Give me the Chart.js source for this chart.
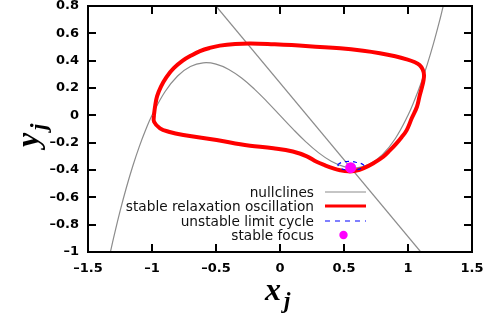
<!DOCTYPE html>
<html>
<head>
<meta charset="utf-8">
<script src="https://cdn.jsdelivr.net/npm/chart.js@4"></script>
<style>
html,body{margin:0;padding:0;background:#fff;}
#wrap{width:495px;height:329px;position:relative;}
</style>
</head>
<body>
<div id="wrap"><canvas id="c" width="495" height="329"></canvas></div>
<script>
// ---- data ----
const xTickValues = [-1.5,-1,-0.5,0,0.5,1,1.5];
const yTickValues = [-1,-0.8,-0.6,-0.4,-0.2,0,0.2,0.4,0.6,0.8];
const xTickLabels = ['\u20131.5','\u20131','\u20130.5','0','0.5','1','1.5'];
const yTickLabels = ['\u20131','\u20130.8','\u20130.6','\u20130.4','\u20130.2','0','0.2','0.4','0.6','0.8'];
const legendLabels = ['nullclines','stable relaxation oscillation','unstable limit cycle','stable focus'];

// cubic nullcline (x, y)
const cubicX = [-1.325,-1.3,-1.25,-1.2,-1.15,-1.1,-1.05,-1.0,-0.9,-0.8,-0.7,-0.6,-0.5,-0.4,-0.3,-0.2,-0.1,0,0.1,0.2,0.3,0.4,0.5,0.6,0.7,0.8,0.9,1.0,1.05,1.1,1.15,1.2,1.25,1.275];
const cubicY = [-1.0,-0.897,-0.703,-0.528,-0.371,-0.231,-0.108,0,0.171,0.288,0.357,0.384,0.375,0.336,0.273,0.192,0.099,0,-0.099,-0.192,-0.273,-0.336,-0.375,-0.384,-0.357,-0.288,-0.171,0,0.108,0.231,0.371,0.528,0.703,0.8];

// linear nullcline
const lineX = [-0.5, 1.1];
const lineY = [0.8, -1.0];

// stable relaxation oscillation (closed orbit)
const orbitX = [-0.985,-0.975,-0.96,-0.93,-0.887,-0.83,-0.76,-0.69,-0.625,-0.55,-0.47,-0.35,-0.23,-0.05,0.2,0.47,0.65,0.78,0.9,0.99,1.05,1.09,1.115,1.125,1.12,1.11,1.09,1.07,1.03,0.99,0.95,0.91,0.86,0.807,0.73,0.65,0.59,0.534,0.47,0.417,0.35,0.286,0.21,0.1,-0.052,-0.234,-0.31,-0.495,-0.755,-0.87,-0.9375,-0.984,-0.985];
const orbitY = [0.0,0.07,0.14,0.21,0.28,0.345,0.40,0.44,0.47,0.493,0.51,0.522,0.526,0.52,0.508,0.49,0.472,0.454,0.432,0.41,0.39,0.368,0.335,0.295,0.25,0.21,0.14,0.063,-0.02,-0.108,-0.16,-0.205,-0.255,-0.303,-0.35,-0.388,-0.405,-0.41,-0.402,-0.388,-0.365,-0.34,-0.30,-0.265,-0.241,-0.222,-0.212,-0.181,-0.144,-0.12,-0.095,-0.047,0.0];

// unstable limit cycle (small closed orbit)
const ulcX = [0.45,0.48,0.52,0.56,0.60,0.64,0.655,0.63,0.58,0.52,0.47,0.45];
const ulcY = [-0.36,-0.345,-0.338,-0.338,-0.345,-0.355,-0.37,-0.39,-0.40,-0.40,-0.385,-0.36];

// stable focus
const focusX = [0.552];
const focusY = [-0.383];

const pts = (xs, ys) => xs.map((x, i) => ({x: x, y: ys[i]}));

const GREY = '#8c8c8c';
const RED = '#ff0000';
const BLUE = '#0000ff';
const MAG = '#ff00ff';
const TICKFONT = '"DejaVu Sans", Verdana, sans-serif';

const framePlugin = {
  id: 'frame',
  afterDraw(chart) {
    const ctx = chart.ctx;
    const xs = chart.scales.x, ys = chart.scales.y;
    const left = xs.left, right = xs.right, top = ys.top, bottom = ys.bottom;
    ctx.save();
    ctx.setLineDash([]);
    ctx.strokeStyle = '#000000';
    ctx.lineWidth = 2;
    ctx.beginPath();
    ctx.moveTo(left, top); ctx.lineTo(right, top); ctx.lineTo(right, bottom);
    ctx.lineTo(left, bottom); ctx.closePath();
    ctx.stroke();
    const L = 8;
    ctx.beginPath();
    xTickValues.forEach(v => {
      const px = Math.round(xs.getPixelForValue(v));
      ctx.moveTo(px, bottom); ctx.lineTo(px, bottom - L);
      ctx.moveTo(px, top); ctx.lineTo(px, top + L);
    });
    yTickValues.forEach(v => {
      const py = Math.round(ys.getPixelForValue(v));
      ctx.moveTo(left, py); ctx.lineTo(left + L, py);
      ctx.moveTo(right, py); ctx.lineTo(right - L, py);
    });
    ctx.stroke();

    // legend
    const tx = 314, lx0 = 325, lx1 = 366;
    const rows = [192, 206, 221, 235];
    ctx.font = '13.7px "DejaVu Sans", Verdana, sans-serif';
    ctx.fillStyle = '#111';
    ctx.textAlign = 'right';
    ctx.textBaseline = 'middle';
    legendLabels.forEach((lab, i) => ctx.fillText(lab, tx, rows[i] + 1));
    // samples
    ctx.lineCap = 'butt';
    ctx.strokeStyle = GREY; ctx.lineWidth = 1.2; ctx.setLineDash([]);
    ctx.beginPath(); ctx.moveTo(lx0, rows[0]); ctx.lineTo(lx1, rows[0]); ctx.stroke();
    ctx.strokeStyle = RED; ctx.lineWidth = 3;
    ctx.beginPath(); ctx.moveTo(lx0, rows[1]); ctx.lineTo(lx1, rows[1]); ctx.stroke();
    ctx.strokeStyle = BLUE; ctx.lineWidth = 1.2; ctx.setLineDash([5, 5]);
    ctx.beginPath(); ctx.moveTo(lx0, rows[2]); ctx.lineTo(lx1, rows[2]); ctx.stroke();
    ctx.setLineDash([]);
    ctx.fillStyle = MAG;
    ctx.beginPath(); ctx.arc(343.5, rows[3], 4.2, 0, Math.PI * 2); ctx.fill();

    // axis titles
    ctx.fillStyle = '#000';
    ctx.textAlign = 'left';
    ctx.textBaseline = 'alphabetic';
    ctx.font = 'italic bold 32px "Liberation Serif", "Times New Roman", serif';
    ctx.fillText('x', 265, 300);
    ctx.font = 'italic bold 23px "Liberation Serif", "Times New Roman", serif';
    ctx.fillText('j', 284, 308);

    ctx.translate(38, 147);
    ctx.rotate(-Math.PI / 2);
    ctx.font = 'italic bold 32px "Liberation Serif", "Times New Roman", serif';
    ctx.fillText('y', 0, 0);
    ctx.font = 'italic bold 23px "Liberation Serif", "Times New Roman", serif';
    ctx.fillText('j', 17, 8);
    ctx.restore();
  }
};

new Chart(document.getElementById('c'), {
  type: 'scatter',
  data: {
    datasets: [
      { label: 'stable focus', data: pts(focusX, focusY), showLine: false,
        pointRadius: 5.5, pointHoverRadius: 5.5, pointBackgroundColor: MAG, pointBorderColor: MAG, pointBorderWidth: 0, order: 0 },
      { label: 'unstable limit cycle', data: pts(ulcX, ulcY), showLine: true, borderColor: BLUE, borderWidth: 1.2,
        borderDash: [4, 4], tension: 0.4, pointRadius: 0, fill: false, order: 1 },
      { label: 'stable relaxation oscillation', data: pts(orbitX, orbitY), showLine: true, borderColor: RED, borderWidth: 4,
        tension: 0.4, pointRadius: 0, fill: false, order: 2 },
      { label: 'nullclines', data: pts(cubicX, cubicY), showLine: true, borderColor: GREY, borderWidth: 1.2,
        tension: 0.4, pointRadius: 0, fill: false, order: 3 },
      { label: 'nullclines (linear)', data: pts(lineX, lineY), showLine: true, borderColor: GREY, borderWidth: 1.2,
        tension: 0, pointRadius: 0, fill: false, order: 3 }
    ]
  },
  options: {
    responsive: false,
    animation: false,
    events: [],
    layout: { padding: { top: 6, right: 23, left: 0, bottom: 0 } },
    plugins: { legend: { display: false }, tooltip: { enabled: false } },
    scales: {
      x: {
        type: 'linear', min: -1.5, max: 1.5,
        ticks: { stepSize: 0.5, color: '#000', padding: 9,
          font: { family: TICKFONT, size: 13, weight: 'bold' },
          callback: (v, i) => xTickLabels[i] },
        grid: { display: false, drawTicks: false },
        border: { display: false },
        afterFit: s => { s.height = 77; s.paddingLeft = 0; s.paddingRight = 0; }
      },
      y: {
        type: 'linear', min: -1, max: 0.8,
        ticks: { stepSize: 0.2, color: '#000', padding: 9,
          font: { family: TICKFONT, size: 13, weight: 'bold' },
          callback: (v, i) => yTickLabels[i] },
        grid: { display: false, drawTicks: false },
        border: { display: false },
        afterFit: s => { s.width = 88; s.paddingTop = 0; s.paddingBottom = 0; }
      }
    }
  },
  plugins: [framePlugin]
});
</script>
</body>
</html>
